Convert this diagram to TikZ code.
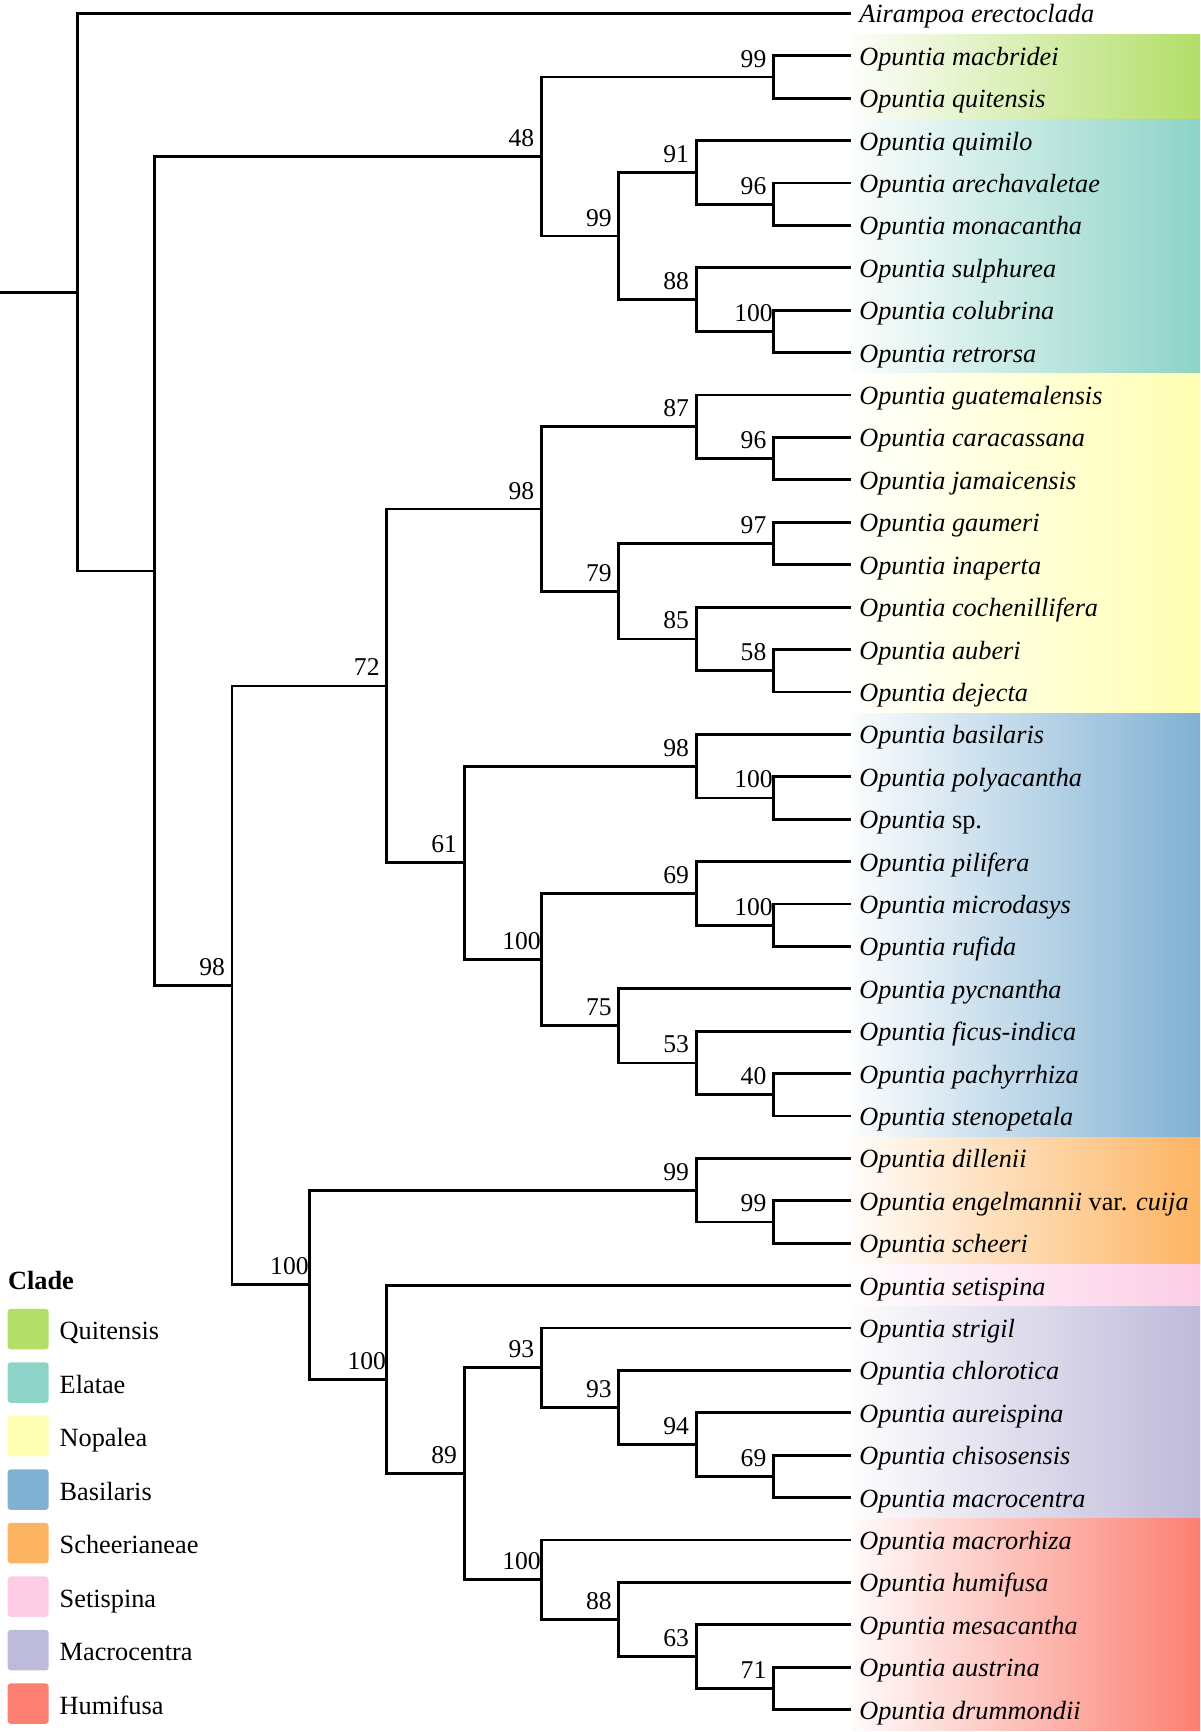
\documentclass[tikz,border=0pt]{standalone}
\usepackage{fontspec}
\setmainfont{Liberation Serif}
\definecolor{cQui}{HTML}{B3DE69}
\definecolor{cEla}{HTML}{8DD3C7}
\definecolor{cNop}{HTML}{FFFFB3}
\definecolor{cBas}{HTML}{80B1D3}
\definecolor{cSch}{HTML}{FDB462}
\definecolor{cSet}{HTML}{FCCDE5}
\definecolor{cMac}{HTML}{BEBADA}
\definecolor{cHum}{HTML}{FB8072}
\newcommand\PX[1]{77.35*(#1)}
\newcommand\PY[1]{13.5+42.4*(#1)}
\newcommand\leaffont{\fontsize{13.15}{15}\selectfont\itshape}
\newcommand\bsfont{\fontsize{12.8}{15}\selectfont}
\newcommand\legfont{\fontsize{13.15}{15}\selectfont}
% internal node: name, level, y-unit, label
\newcommand\inode[4]{\coordinate (#1) at ({\PX{#2}},{\PY{#3}});
  \node[bs] (l#1) at ([shift={(-20,-10)}]#1) {#4};}
% leaf: index, text
\newcommand\leafnode[2]{\coordinate (t#1) at ({\PX{11}},{\PY{#1}});
  \node[leaf] (l#1) at ([shift={(8,9.5)}]t#1) {#2};}
\newcommand\clade[3]{\draw[tree] (#2) -| (#1) |- (#3);}
\newcommand\band[3]{\shade[left color=#1!3, right color=#1] (851,{\PY{#2}}) rectangle (1200,{\PY{#3}});}
\newcommand\legitem[3]{\node[legsq, fill=#2] (sq#1) at (28.15,{1329.1+53.5*(#1)}) {};
  \node[legtxt] (lt#1) at (59.3,{1339.8+53.5*(#1)}) {#3};}
\begin{document}
\begin{tikzpicture}[x=0.5pt,y=-0.5pt,
  tree/.style={line width=1.4pt, line join=miter, black},
  bs/.style={anchor=base, inner sep=0pt, font=\bsfont},
  leaf/.style={anchor=base west, inner sep=0pt, font=\leaffont},
  legsq/.style={draw=none, minimum width=20.5pt, minimum height=20.2pt, inner sep=0pt, rounded corners=1.5pt},
  legtxt/.style={anchor=base west, inner sep=0pt, font=\legfont}]
\useasboundingbox (0,0) rectangle (1200,1732);
% colour bands
\band{cQui}{0.5}{2.5}
\band{cEla}{2.5}{8.5}
\band{cNop}{8.5}{16.5}
\band{cBas}{16.5}{26.5}
\band{cSch}{26.5}{29.5}
\band{cSet}{29.5}{30.5}
\band{cMac}{30.5}{35.5}
\band{cHum}{35.5}{40.5}
% leaves
\leafnode{0}{Airampoa erectoclada}
\leafnode{1}{Opuntia macbridei}
\leafnode{2}{Opuntia quitensis}
\leafnode{3}{Opuntia quimilo}
\leafnode{4}{Opuntia arechavaletae}
\leafnode{5}{Opuntia monacantha}
\leafnode{6}{Opuntia sulphurea}
\leafnode{7}{Opuntia colubrina}
\leafnode{8}{Opuntia retrorsa}
\leafnode{9}{Opuntia guatemalensis}
\leafnode{10}{Opuntia caracassana}
\leafnode{11}{Opuntia jamaicensis}
\leafnode{12}{Opuntia gaumeri}
\leafnode{13}{Opuntia inaperta}
\leafnode{14}{Opuntia cochenillifera}
\leafnode{15}{Opuntia auberi}
\leafnode{16}{Opuntia dejecta}
\leafnode{17}{Opuntia basilaris}
\leafnode{18}{Opuntia polyacantha}
\leafnode{19}{Opuntia \upshape sp.}
\leafnode{20}{Opuntia pilifera}
\leafnode{21}{Opuntia microdasys}
\leafnode{22}{Opuntia rufida}
\leafnode{23}{Opuntia pycnantha}
\leafnode{24}{Opuntia ficus-indica}
\leafnode{25}{Opuntia pachyrrhiza}
\leafnode{26}{Opuntia stenopetala}
\leafnode{27}{Opuntia dillenii}
\leafnode{28}{Opuntia engelmannii {\upshape var.} cuija}
\leafnode{29}{Opuntia scheeri}
\leafnode{30}{Opuntia setispina}
\leafnode{31}{Opuntia strigil}
\leafnode{32}{Opuntia chlorotica}
\leafnode{33}{Opuntia aureispina}
\leafnode{34}{Opuntia chisosensis}
\leafnode{35}{Opuntia macrocentra}
\leafnode{36}{Opuntia macrorhiza}
\leafnode{37}{Opuntia humifusa}
\leafnode{38}{Opuntia mesacantha}
\leafnode{39}{Opuntia austrina}
\leafnode{40}{Opuntia drummondii}
% internal nodes
\coordinate (root) at ({\PX{1}},{\PY{6.57421875}});
\coordinate (r0) at (0,{\PY{6.57421875}});
\coordinate (nA) at ({\PX{2}},{\PY{13.1484375}});
\inode{nB}{7}{3.375}{48}
\inode{nQ}{10}{1.5}{99}
\inode{nE}{8}{5.25}{99}
\inode{nEa}{9}{3.75}{91}
\inode{nEb}{10}{4.5}{96}
\inode{nEc}{9}{6.75}{88}
\inode{nEd}{10}{7.5}{100}
\inode{nC}{3}{22.921875}{98}
\inode{nT}{5}{15.859375}{72}
\inode{nN}{7}{11.6875}{98}
\inode{nNa}{9}{9.75}{87}
\inode{nNb}{10}{10.5}{96}
\inode{nNc}{8}{13.625}{79}
\inode{nNd}{10}{12.5}{97}
\inode{nNe}{9}{14.75}{85}
\inode{nNf}{10}{15.5}{58}
\inode{nS}{6}{20.03125}{61}
\inode{nBa}{9}{17.75}{98}
\inode{nBb}{10}{18.5}{100}
\inode{nBc}{7}{22.3125}{100}
\inode{nBd}{9}{20.75}{69}
\inode{nBe}{10}{21.5}{100}
\inode{nBf}{8}{23.875}{75}
\inode{nBg}{9}{24.75}{53}
\inode{nBh}{10}{25.5}{40}
\inode{nD}{4}{29.984375}{100}
\inode{nSa}{9}{27.75}{99}
\inode{nSb}{10}{28.5}{99}
\inode{nF}{5}{32.21875}{100}
\inode{nG}{6}{34.4375}{89}
\inode{nMa}{7}{31.9375}{93}
\inode{nMb}{8}{32.875}{93}
\inode{nMc}{9}{33.75}{94}
\inode{nMd}{10}{34.5}{69}
\inode{nHa}{7}{36.9375}{100}
\inode{nHb}{8}{37.875}{88}
\inode{nHc}{9}{38.75}{63}
\inode{nHd}{10}{39.5}{71}
% branches
\draw[tree] (r0) -- (root);
\clade{root}{t0}{nA}
\clade{nA}{nB}{nC}
\clade{nB}{nQ}{nE}
\clade{nQ}{t1}{t2}
\clade{nE}{nEa}{nEc}
\clade{nEa}{t3}{nEb}
\clade{nEb}{t4}{t5}
\clade{nEc}{t6}{nEd}
\clade{nEd}{t7}{t8}
\clade{nC}{nT}{nD}
\clade{nT}{nN}{nS}
\clade{nN}{nNa}{nNc}
\clade{nNa}{t9}{nNb}
\clade{nNb}{t10}{t11}
\clade{nNc}{nNd}{nNe}
\clade{nNd}{t12}{t13}
\clade{nNe}{t14}{nNf}
\clade{nNf}{t15}{t16}
\clade{nS}{nBa}{nBc}
\clade{nBa}{t17}{nBb}
\clade{nBb}{t18}{t19}
\clade{nBc}{nBd}{nBf}
\clade{nBd}{t20}{nBe}
\clade{nBe}{t21}{t22}
\clade{nBf}{t23}{nBg}
\clade{nBg}{t24}{nBh}
\clade{nBh}{t25}{t26}
\clade{nD}{nSa}{nF}
\clade{nSa}{t27}{nSb}
\clade{nSb}{t28}{t29}
\clade{nF}{t30}{nG}
\clade{nG}{nMa}{nHa}
\clade{nMa}{t31}{nMb}
\clade{nMb}{t32}{nMc}
\clade{nMc}{t33}{nMd}
\clade{nMd}{t34}{t35}
\clade{nHa}{t36}{nHb}
\clade{nHb}{t37}{nHc}
\clade{nHc}{t38}{nHd}
\clade{nHd}{t39}{t40}
% legend
\node[anchor=base west, inner sep=0pt, font=\legfont\bfseries] (cladeT) at (7.7,1289.2) {Clade};
\legitem{0}{cQui}{Quitensis}
\legitem{1}{cEla}{Elatae}
\legitem{2}{cNop}{Nopalea}
\legitem{3}{cBas}{Basilaris}
\legitem{4}{cSch}{Scheerianeae}
\legitem{5}{cSet}{Setispina}
\legitem{6}{cMac}{Macrocentra}
\legitem{7}{cHum}{Humifusa}
\end{tikzpicture}
\end{document}
